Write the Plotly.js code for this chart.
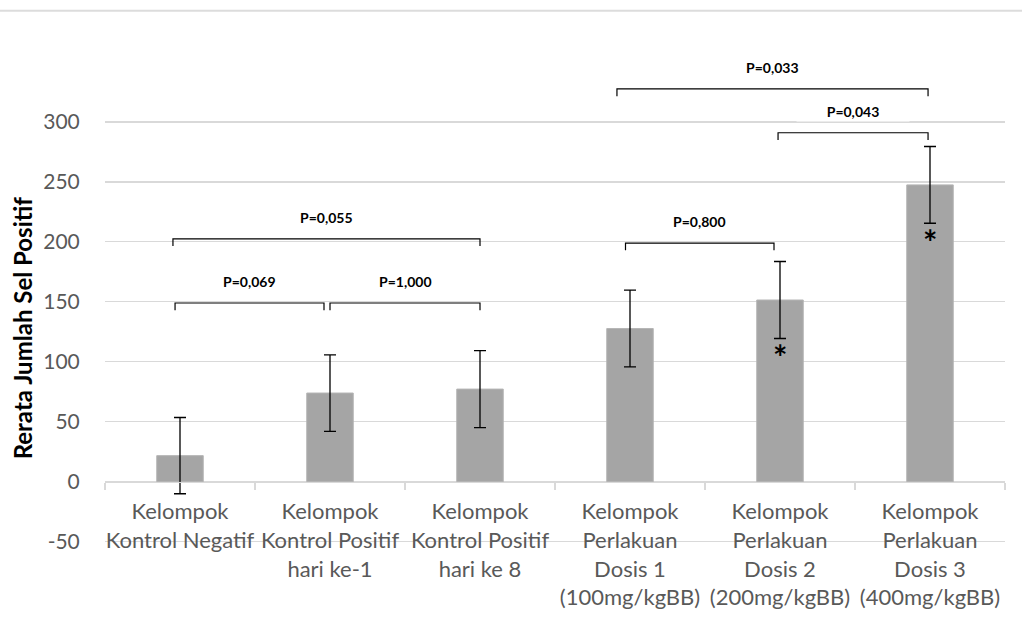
<!DOCTYPE html>
<html>
<head>
<meta charset="utf-8">
<script src="https://cdn.plot.ly/plotly-3.0.1.min.js"></script>
<style>html,body{margin:0;padding:0;background:#fff;}#chart{width:1022px;height:623px;}</style>
</head>
<body>
<div id="chart"></div>
<script>
// ---- data ----
const categories = [
  "Kelompok<br>Kontrol Negatif",
  "Kelompok<br>Kontrol Positif<br>hari ke-1",
  "Kelompok<br>Kontrol Positif<br>hari ke 8",
  "Kelompok<br>Perlakuan<br>Dosis 1<br>(100mg/kgBB)",
  "Kelompok<br>Perlakuan<br>Dosis 2<br>(200mg/kgBB)",
  "Kelompok<br>Perlakuan<br>Dosis 3<br>(400mg/kgBB)"
];
const means = [21.7, 73.9, 77.2, 127.7, 151.5, 247.5];
const sds = [31.8, 31.9, 32.1, 32.0, 32.1, 32.0];
const yTicks = [-50, 0, 50, 100, 150, 200, 250, 300];
// comparisons: group indices, p-value label, bracket level (y value)
const compFrom = [0, 0, 1, 3, 4, 3];
const compTo   = [2, 1, 2, 4, 5, 5];
const compP    = ["P=0,055", "P=0,069", "P=1,000", "P=0,800", "P=0,043", "P=0,033"];
const compLevel = [202.5, 149, 149, 199, 291, 327.5];
// significance markers: group index and marker y
const starGroups = [4, 5];
const starY = [104, 200];

// ---- layout helpers ----
const yMin = -52, yMax = 360;
const xAxisPos = (0 - yMin) / (yMax - yMin);
const fontFam = "Lato, 'Open Sans', sans-serif";

const shapes = [];
const annotations = [];
const offsets = { // small visual offsets of bracket ends (category units)
  from: [-0.047, -0.033, 0.0, -0.03, -0.013, -0.087],
  to:   [0.0, -0.04, 0.0, -0.04, -0.013, -0.013]
};
for (let i = 0; i < compP.length; i++) {
  const x0 = compFrom[i] + offsets.from[i];
  const x1 = compTo[i] + offsets.to[i];
  const yv = compLevel[i];
  const drop = 6;
  shapes.push({type: 'path', xref: 'x', yref: 'y',
    path: `M ${x0},${yv - drop} L ${x0},${yv} L ${x1},${yv} L ${x1},${yv - drop}`,
    line: {color: '#000', width: 1.2}});
  annotations.push({x: (x0 + x1) / 2, y: yv + 18, xref: 'x', yref: 'y', text: compP[i],
    showarrow: false, font: {family: fontFam, size: 14, color: '#000', weight: 'bold'},
    bgcolor: i === 4 ? '#fff' : 'rgba(0,0,0,0)', width: i === 4 ? 110 : undefined,
    xanchor: 'center', yanchor: 'middle'});
}
for (let i = 0; i < starGroups.length; i++) {
  annotations.push({x: starGroups[i], y: starY[i], xref: 'x', yref: 'y', text: '*',
    showarrow: false, font: {family: fontFam, size: 34, color: '#000', weight: 'bold'},
    xanchor: 'center', yanchor: 'middle'});
}
// y-axis title
annotations.push({x: -0.092, y: 128, xref: 'paper', yref: 'y', text: 'Rerata Jumlah Sel Positif',
  textangle: -90, showarrow: false, font: {family: fontFam, size: 24, color: '#000', weight: 'bold'},
  xanchor: 'center', yanchor: 'middle'});
// faint rule at the very top (page header remnant)
shapes.push({type: 'line', xref: 'paper', yref: 'paper', x0: -0.12, x1: 1.02, y0: 1.0795, y1: 1.0795,
  line: {color: '#dcdcdc', width: 2}});

const trace = {
  type: 'bar', x: categories, y: means,
  marker: {color: '#a5a5a5', line: {color: '#b5b5b5', width: 1}},
  width: 0.31,
  error_y: {type: 'data', array: sds, visible: true, color: '#000', thickness: 1.3, width: 6},
  hoverinfo: 'skip'
};

const layout = {
  width: 1022, height: 623,
  margin: {l: 105, r: 17, t: 50, b: 78.6},
  paper_bgcolor: '#fff', plot_bgcolor: '#fff',
  showlegend: false,
  font: {family: fontFam, color: '#595959'},
  xaxis: {
    type: 'category', tickson: 'boundaries', ticks: 'outside', ticklen: 7,
    tickcolor: '#d9d9d9', tickwidth: 1.3, showline: true, linecolor: '#d9d9d9', linewidth: 1.3,
    showgrid: false, anchor: 'free', position: xAxisPos,
    tickfont: {family: fontFam, size: 22, color: '#595959'}, tickangle: 0,
    ticklabelstandoff: 10,
    range: [-0.5, 5.5]
  },
  yaxis: {
    range: [yMin, yMax], tickvals: yTicks, ticktext: yTicks.map(String),
    showgrid: true, gridcolor: '#d9d9d9', gridwidth: 1.3, zeroline: false,
    ticks: 'outside', ticklen: 20, tickcolor: 'rgba(0,0,0,0)',
    tickfont: {family: fontFam, size: 21, color: '#595959'}, showline: false
  },
  shapes: shapes,
  annotations: annotations
};

Plotly.newPlot('chart', [trace], layout, {staticPlot: true, displayModeBar: false});
</script>
</body>
</html>
